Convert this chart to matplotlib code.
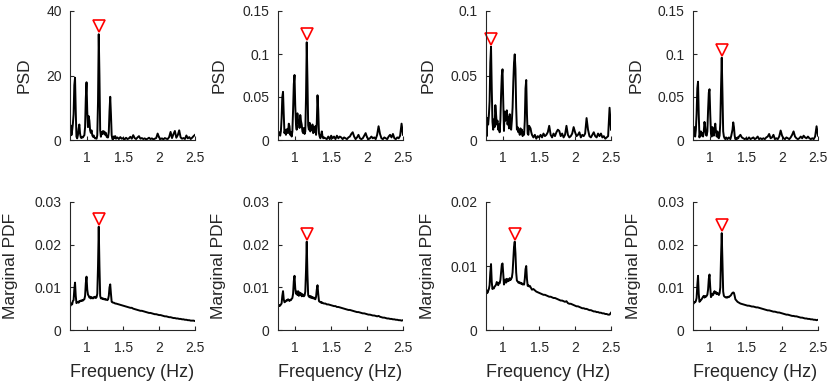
import numpy as np
import matplotlib
matplotlib.use('Agg')
import matplotlib.pyplot as plt
from matplotlib.ticker import FuncFormatter
from matplotlib.transforms import offset_copy

plt.rcParams['font.family'] = ['Liberation Sans', 'DejaVu Sans']

# frequency grid (Hz): fine steps over the peaks, coarser in the tail
freq = [0.76, 0.77, 0.78, 0.79, 0.80, 0.81, 0.82, 0.83, 0.84, 0.85,
        0.86, 0.87, 0.88, 0.89, 0.90, 0.91, 0.92, 0.93, 0.94, 0.95,
        0.96, 0.97, 0.98, 0.99, 1.00, 1.01, 1.02, 1.03, 1.04, 1.05,
        1.06, 1.07, 1.08, 1.09, 1.10, 1.11, 1.12, 1.13, 1.14, 1.15,
        1.16, 1.17, 1.18, 1.19, 1.20, 1.21, 1.22, 1.23, 1.24, 1.25,
        1.26, 1.27, 1.28, 1.29, 1.30, 1.31, 1.32, 1.33, 1.34, 1.35,
        1.36, 1.37, 1.38, 1.39, 1.40,
        1.42, 1.44, 1.46, 1.48, 1.50, 1.52, 1.54, 1.56, 1.58, 1.60,
        1.62, 1.64, 1.66, 1.68, 1.70, 1.72, 1.74, 1.76, 1.78, 1.80,
        1.82, 1.84, 1.86, 1.88, 1.90, 1.92, 1.94, 1.96, 1.98, 2.00,
        2.02, 2.04, 2.06, 2.08, 2.10, 2.12, 2.14, 2.16, 2.18, 2.20,
        2.22, 2.24, 2.26, 2.28, 2.30, 2.32, 2.34, 2.36, 2.38, 2.40,
        2.42, 2.44, 2.46, 2.48, 2.50]

# top row: PSD
psd_1 = [2.0, 4.5, 1.5, 3.0, 5.0, 8.0, 17.0, 19.3, 9.0, 1.0,
         0.5, 1.5, 3.5, 4.8, 2.0, 0.8, 0.6, 1.0, 0.8, 1.2,
         1.5, 4.0, 13.0, 17.9, 9.0, 4.0, 7.4, 6.0, 3.0, 2.2,
         3.0, 1.5, 1.0, 1.4, 0.8, 0.5, 0.6, 0.4, 1.5, 12.0,
         32.8, 20.0, 3.0, 1.0, 2.5, 1.8, 2.8, 2.0, 2.6, 1.6,
         2.2, 1.0, 0.8, 0.8, 2.5, 9.0, 13.4, 8.0, 1.5, 0.3,
         0.2, 1.1, 0.6, 1.2, 0.4,
         0.8, 0.3, 0.9, 0.4, 0.6, 0.2, 0.7, 0.3, 0.5, 1.0,
         0.4, 1.5, 0.6, 0.3, 0.8, 1.2, 0.4, 0.6, 0.3, 0.5,
         0.2, 0.4, 0.7, 0.3, 0.5, 0.2, 0.4, 0.6, 2.0, 0.8,
         0.3, 0.5, 0.2, 0.6, 0.4, 0.3, 0.9, 2.5, 0.6, 1.8,
         2.8, 0.7, 1.5, 3.0, 0.8, 0.4, 0.6, 0.3, 1.4, 0.5,
         0.9, 0.3, 0.7, 1.2, 1.6]

psd_2 = [0.008, 0.006, 0.009, 0.005, 0.010, 0.025, 0.050, 0.056, 0.030, 0.008,
         0.012, 0.006, 0.011, 0.013, 0.008, 0.019, 0.016, 0.006, 0.009, 0.004,
         0.010, 0.035, 0.065, 0.0756, 0.040, 0.019, 0.012, 0.031, 0.020, 0.023,
         0.014, 0.029, 0.022, 0.018, 0.010, 0.008, 0.014, 0.007, 0.010, 0.050,
         0.1136, 0.070, 0.017, 0.012, 0.020, 0.010, 0.016, 0.012, 0.018, 0.008,
         0.015, 0.009, 0.016, 0.006, 0.020, 0.052, 0.035, 0.008, 0.004, 0.002,
         0.006, 0.010, 0.004, 0.002, 0.003,
         0.002, 0.001, 0.004, 0.001, 0.005, 0.002, 0.004, 0.001, 0.005, 0.002,
         0.004, 0.003, 0.001, 0.003, 0.002, 0.001, 0.003, 0.004, 0.007, 0.009,
         0.004, 0.001, 0.003, 0.006, 0.002, 0.001, 0.002, 0.005, 0.008, 0.003,
         0.001, 0.002, 0.004, 0.002, 0.003, 0.001, 0.006, 0.016, 0.007, 0.002,
         0.001, 0.003, 0.002, 0.001, 0.004, 0.006, 0.003, 0.007, 0.002, 0.001,
         0.003, 0.002, 0.005, 0.019, 0.006]

psd_3 = [0.022, 0.003, 0.017, 0.012, 0.019, 0.030, 0.060, 0.0723, 0.040, 0.014,
         0.008, 0.016, 0.010, 0.027, 0.020, 0.012, 0.015, 0.008, 0.012, 0.006,
         0.015, 0.035, 0.050, 0.0548, 0.030, 0.007, 0.022, 0.015, 0.020, 0.023,
         0.012, 0.018, 0.009, 0.020, 0.012, 0.008, 0.015, 0.025, 0.045, 0.060,
         0.0664, 0.055, 0.025, 0.008, 0.010, 0.006, 0.008, 0.004, 0.009, 0.005,
         0.008, 0.003, 0.006, 0.004, 0.015, 0.040, 0.0465, 0.020, 0.005, 0.004,
         0.011, 0.010, 0.009, 0.006, 0.004,
         0.002, 0.004, 0.001, 0.003, 0.002, 0.004, 0.002, 0.005, 0.003, 0.004,
         0.006, 0.011, 0.004, 0.002, 0.005, 0.003, 0.006, 0.008, 0.007, 0.003,
         0.005, 0.002, 0.004, 0.011, 0.004, 0.002, 0.003, 0.005, 0.010, 0.006,
         0.003, 0.004, 0.006, 0.002, 0.004, 0.003, 0.005, 0.017, 0.008, 0.003,
         0.002, 0.004, 0.006, 0.003, 0.002, 0.005, 0.003, 0.005, 0.002, 0.003,
         0.001, 0.002, 0.003, 0.025, 0.008]

psd_4 = [0.014, 0.006, 0.015, 0.004, 0.012, 0.030, 0.060, 0.0678, 0.030, 0.003,
         0.008, 0.010, 0.005, 0.008, 0.004, 0.010, 0.021, 0.015, 0.006, 0.005,
         0.010, 0.035, 0.055, 0.059, 0.030, 0.008, 0.004, 0.015, 0.008, 0.005,
         0.012, 0.019, 0.010, 0.004, 0.010, 0.003, 0.002, 0.005, 0.020, 0.060,
         0.0957, 0.055, 0.010, 0.004, 0.002, 0.001, 0.003, 0.002, 0.001, 0.002,
         0.003, 0.002, 0.001, 0.004, 0.008, 0.012, 0.0205, 0.015, 0.005, 0.001,
         0.002, 0.001, 0.003, 0.002, 0.004,
         0.006, 0.003, 0.002, 0.001, 0.002, 0.001, 0.003, 0.001, 0.002, 0.003,
         0.001, 0.002, 0.004, 0.001, 0.002, 0.001, 0.002, 0.001, 0.003, 0.004,
         0.007, 0.002, 0.003, 0.006, 0.001, 0.002, 0.001, 0.004, 0.011, 0.005,
         0.002, 0.001, 0.003, 0.002, 0.001, 0.003, 0.006, 0.010, 0.004, 0.002,
         0.001, 0.002, 0.004, 0.002, 0.005, 0.003, 0.002, 0.004, 0.002, 0.001,
         0.002, 0.001, 0.004, 0.016, 0.005]

# bottom row: marginal PDF
pdf_1 = [0.0055, 0.0058, 0.0062, 0.0060, 0.0068, 0.0070, 0.0095, 0.0111, 0.0080, 0.0063,
         0.0065, 0.0066, 0.0064, 0.0068, 0.0067, 0.0069, 0.0068, 0.0070, 0.0069, 0.0071,
         0.0072, 0.0080, 0.0110, 0.0125, 0.0095, 0.0083, 0.0080, 0.0076, 0.0078, 0.0074,
         0.0077, 0.0075, 0.0074, 0.0077, 0.0076, 0.0078, 0.0075, 0.0077, 0.0085, 0.0150,
         0.0242, 0.0150, 0.0080, 0.0074, 0.0075, 0.0073, 0.0074, 0.0072, 0.0073, 0.0071,
         0.0072, 0.0071, 0.0070, 0.0072, 0.0080, 0.0100, 0.0107, 0.0085, 0.0066, 0.0065,
         0.0064, 0.0064, 0.0063, 0.0062, 0.0062,
         0.0061, 0.0060, 0.0059, 0.0058, 0.0057, 0.0056, 0.0055, 0.0054, 0.0053, 0.0052,
         0.0052, 0.0050, 0.0049, 0.0048, 0.0047, 0.0046, 0.0045, 0.0045, 0.0044, 0.0043,
         0.0042, 0.0041, 0.0040, 0.0040, 0.0039, 0.0038, 0.0037, 0.0037, 0.0036, 0.0035,
         0.0035, 0.0034, 0.0033, 0.0032, 0.0032, 0.0031, 0.0030, 0.0030, 0.0029, 0.0028,
         0.0028, 0.0027, 0.0027, 0.0026, 0.0026, 0.0025, 0.0025, 0.0024, 0.0024, 0.0023,
         0.0023, 0.0022, 0.0022, 0.0022, 0.0021]

pdf_2 = [0.0055, 0.0056, 0.0058, 0.0057, 0.0060, 0.0062, 0.0080, 0.0091, 0.0072, 0.0065,
         0.0066, 0.0068, 0.0070, 0.0069, 0.0072, 0.0070, 0.0068, 0.0071, 0.0070, 0.0073,
         0.0075, 0.0085, 0.0115, 0.0127, 0.0098, 0.0085, 0.0090, 0.0082, 0.0091, 0.0080,
         0.0088, 0.0082, 0.0086, 0.0079, 0.0084, 0.0080, 0.0079, 0.0081, 0.0090, 0.0140,
         0.0207, 0.0130, 0.0082, 0.0078, 0.0080, 0.0076, 0.0079, 0.0075, 0.0077, 0.0074,
         0.0076, 0.0073, 0.0072, 0.0078, 0.0095, 0.0105, 0.0085, 0.0068, 0.0066, 0.0066,
         0.0064, 0.0065, 0.0063, 0.0063, 0.0062,
         0.0062, 0.0060, 0.0060, 0.0059, 0.0058, 0.0057, 0.0056, 0.0056, 0.0054, 0.0054,
         0.0053, 0.0052, 0.0051, 0.0050, 0.0049, 0.0048, 0.0047, 0.0047, 0.0046, 0.0045,
         0.0044, 0.0043, 0.0042, 0.0042, 0.0041, 0.0040, 0.0039, 0.0039, 0.0038, 0.0037,
         0.0036, 0.0036, 0.0035, 0.0034, 0.0034, 0.0033, 0.0032, 0.0033, 0.0031, 0.0030,
         0.0029, 0.0029, 0.0028, 0.0027, 0.0027, 0.0026, 0.0026, 0.0025, 0.0025, 0.0024,
         0.0024, 0.0023, 0.0023, 0.0022, 0.0023]

pdf_3 = [0.0055, 0.0062, 0.0058, 0.0061, 0.0064, 0.0070, 0.0090, 0.0103, 0.0075, 0.0064,
         0.0066, 0.0065, 0.0068, 0.0069, 0.0071, 0.0075, 0.0072, 0.0070, 0.0074, 0.0073,
         0.0078, 0.0090, 0.0102, 0.0104, 0.0088, 0.0071, 0.0076, 0.0079, 0.0074, 0.0080,
         0.0076, 0.0079, 0.0077, 0.0081, 0.0078, 0.0080, 0.0082, 0.0090, 0.0110, 0.0130,
         0.0138, 0.0120, 0.0090, 0.0077, 0.0076, 0.0074, 0.0075, 0.0073, 0.0074, 0.0072,
         0.0073, 0.0071, 0.0072, 0.0071, 0.0080, 0.0095, 0.0100, 0.0080, 0.0069, 0.0070,
         0.0068, 0.0069, 0.0067, 0.0065, 0.0063,
         0.0064, 0.0062, 0.0060, 0.0059, 0.0058, 0.0057, 0.0056, 0.0055, 0.0055, 0.0054,
         0.0053, 0.0052, 0.0052, 0.0051, 0.0050, 0.0050, 0.0049, 0.0048, 0.0047, 0.0046,
         0.0046, 0.0045, 0.0044, 0.0045, 0.0042, 0.0041, 0.0041, 0.0040, 0.0039, 0.0038,
         0.0037, 0.0037, 0.0036, 0.0035, 0.0034, 0.0034, 0.0033, 0.0033, 0.0032, 0.0031,
         0.0031, 0.0030, 0.0029, 0.0029, 0.0028, 0.0028, 0.0027, 0.0027, 0.0026, 0.0026,
         0.0025, 0.0025, 0.0024, 0.0024, 0.0027]

pdf_4 = [0.0063, 0.0062, 0.0066, 0.0065, 0.0068, 0.0075, 0.0105, 0.0127, 0.0085, 0.0066,
         0.0068, 0.0070, 0.0072, 0.0075, 0.0078, 0.0080, 0.0076, 0.0079, 0.0078, 0.0080,
         0.0083, 0.0095, 0.0120, 0.0130, 0.0100, 0.0077, 0.0080, 0.0085, 0.0082, 0.0088,
         0.0091, 0.0086, 0.0089, 0.0084, 0.0087, 0.0085, 0.0082, 0.0086, 0.0100, 0.0170,
         0.0227, 0.0160, 0.0090, 0.0080, 0.0078, 0.0077, 0.0076, 0.0077, 0.0076, 0.0078,
         0.0077, 0.0079, 0.0080, 0.0082, 0.0085, 0.0087, 0.0088, 0.0087, 0.0080, 0.0072,
         0.0070, 0.0068, 0.0066, 0.0065, 0.0064,
         0.0062, 0.0061, 0.0060, 0.0059, 0.0058, 0.0057, 0.0057, 0.0056, 0.0055, 0.0055,
         0.0054, 0.0053, 0.0053, 0.0052, 0.0051, 0.0050, 0.0049, 0.0048, 0.0047, 0.0046,
         0.0046, 0.0045, 0.0044, 0.0043, 0.0043, 0.0042, 0.0041, 0.0041, 0.0040, 0.0039,
         0.0038, 0.0037, 0.0036, 0.0036, 0.0035, 0.0034, 0.0033, 0.0033, 0.0032, 0.0032,
         0.0031, 0.0030, 0.0029, 0.0029, 0.0028, 0.0027, 0.0027, 0.0026, 0.0026, 0.0025,
         0.0025, 0.0024, 0.0024, 0.0023, 0.0024]

psd_ymax = [40, 0.15, 0.1, 0.15]
psd_yticks = [[0, 20, 40], [0, 0.05, 0.1, 0.15], [0, 0.05, 0.1], [0, 0.05, 0.1, 0.15]]
pdf_ymax = [0.03, 0.03, 0.02, 0.03]
pdf_yticks = [[0, 0.01, 0.02, 0.03], [0, 0.01, 0.02, 0.03], [0, 0.01, 0.02], [0, 0.01, 0.02, 0.03]]
xticks = [1, 1.5, 2, 2.5]

# layout in pixels (830x385 canvas)
W, H = 830, 385
lefts = [70, 278, 486, 693]
ax_w = 125
rows = [(11, 140), (202, 330)]
psd_labx = [-0.31, -0.41, -0.40, -0.396]
pdf_labx = [-0.414, -0.413, -0.408, -0.416]
gray = (0.15, 0.15, 0.15)

fig = plt.figure(figsize=(8.3, 3.85), dpi=100)

panels = [
    (0, [psd_1, psd_2, psd_3, psd_4], psd_ymax, psd_yticks, 'PSD', psd_labx),
    (1, [pdf_1, pdf_2, pdf_3, pdf_4], pdf_ymax, pdf_yticks, 'Marginal PDF', pdf_labx),
]

for r, series, ymaxs, yticks, ylab, labx in panels:
    top, bot = rows[r]
    for c in range(4):
        ax = fig.add_axes([lefts[c] / W, 1 - bot / H, ax_w / W, (bot - top) / H])
        vals = series[c]
        ax.plot(freq, vals, color='k', lw=1.4)
        # red marker just above the highest peak
        i = int(np.argmax(vals))
        tr = offset_copy(ax.transData, fig=fig, x=0, y=8, units='dots')
        ax.plot(freq[i], vals[i], marker='v', ms=8.5, mfc='none', mec='red',
                mew=1.2, transform=tr, clip_on=False)

        ax.set_xlim(0.76, 2.5)
        ax.set_ylim(0, ymaxs[c])
        ax.set_xticks(xticks)
        ax.set_yticks(yticks[c])
        fmt = FuncFormatter(lambda v, p: f'{v:g}')
        ax.xaxis.set_major_formatter(fmt)
        ax.yaxis.set_major_formatter(fmt)

        for s in ['top', 'right']:
            ax.spines[s].set_visible(False)
        for s in ['left', 'bottom']:
            ax.spines[s].set_color(gray)
            ax.spines[s].set_linewidth(0.8)
        ax.tick_params(direction='in', length=3, width=0.8, color=gray,
                       labelcolor=gray, labelsize=10)
        ax.tick_params(axis='x', pad=8)
        ax.tick_params(axis='y', pad=6)

        ax.set_ylabel(ylab, fontsize=12.5, color=gray)
        ax.yaxis.set_label_coords(labx[c], 0.5)
        if r == 1:
            ax.set_xlabel('Frequency (Hz)', fontsize=13, color=gray)
            ax.xaxis.set_label_coords(0.5, -0.266)

fig.savefig('out.png', dpi=100)
